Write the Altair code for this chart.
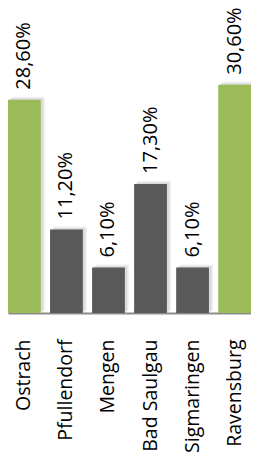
import altair as alt
import pandas as pd

categories = ["Ostrach", "Pfullendorf", "Mengen", "Bad Saulgau", "Sigmaringen", "Ravensburg"]
values = [28.6, 11.2, 6.1, 17.3, 6.1, 30.6]
labels = ["28,60%", "11,20%", "6,10%", "17,30%", "6,10%", "30,60%"]
groups = ["hi", "lo", "lo", "lo", "lo", "hi"]

df = pd.DataFrame({"cat": categories, "val": values, "lab": labels, "grp": groups})

FONT = "Open Sans"

xscale = alt.Scale(paddingInner=0.22, paddingOuter=0.0)
x = alt.X("cat:N", sort=categories, scale=xscale,
          axis=alt.Axis(title=None, labelAngle=-90, labelAlign="right", labelBaseline="middle",
                        labelFontSize=19.5, labelFont=FONT, labelColor="#000000",
                        labelPadding=26, ticks=False, domainColor="#8c8c8c", domainWidth=2))
y = alt.Y("val:Q", scale=alt.Scale(domain=[0, 40.9], nice=False, zero=True), axis=None)

color = alt.Color("grp:N", scale=alt.Scale(domain=["hi", "lo"], range=["#9bbb59", "#595959"]), legend=None)

base = alt.Chart(df)
shadow1 = base.mark_bar(xOffset=4, yOffset=-3).encode(x=x, y=y, color=alt.value("#f0f0f0"))
shadow2 = base.mark_bar(xOffset=2.5, yOffset=-1.5).encode(x=x, y=y, color=alt.value("#dadada"))
bars = base.mark_bar().encode(x=x, y=y, color=color)
text = base.mark_text(angle=270, align="left", baseline="middle", dx=10,
                      font=FONT, fontSize=20, color="#000000").encode(
    x=x, y=y, text="lab:N")

chart = alt.layer(shadow1, shadow2, bars, text).properties(
    width=243, height=305,
    autosize=alt.AutoSizeParams(type="none"),
    padding={"left": 0, "top": 0, "right": 0, "bottom": 146},
).configure_view(stroke=None)

chart.save("out.html", embed_options={"renderer": "svg", "actions": False})
